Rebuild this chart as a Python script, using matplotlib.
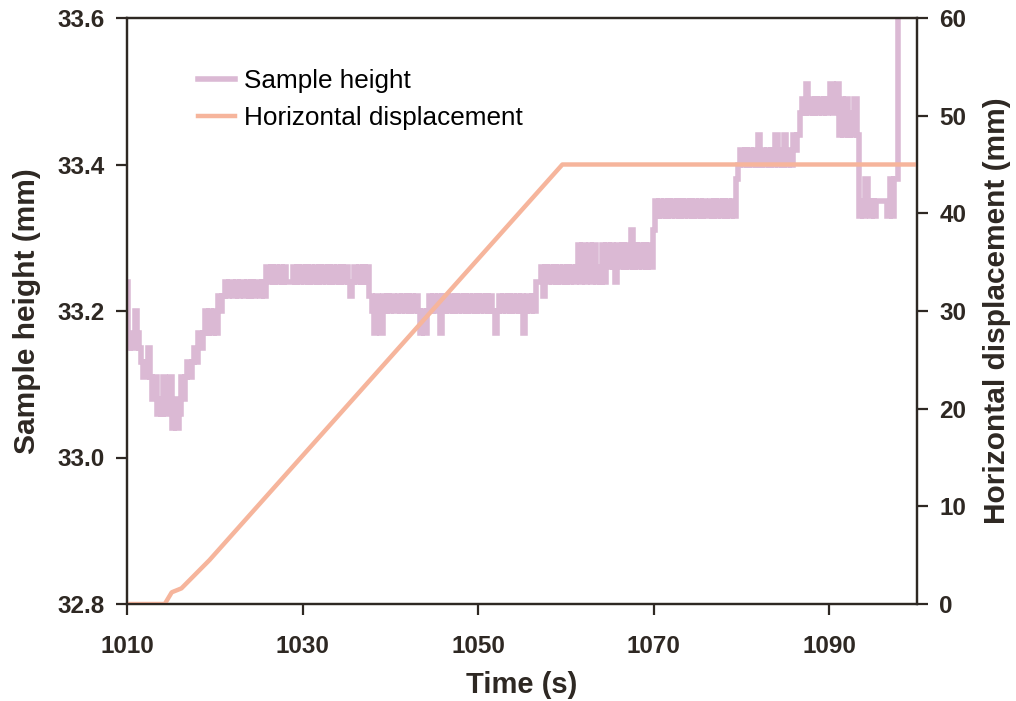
import numpy as np
import matplotlib
matplotlib.use('Agg')
import matplotlib.pyplot as plt

# sample height (mm), read every 0.25 s starting at 1010 s
height_1010 = [33.24, 33.15, 33.17, 33.15, 33.20, 33.17, 33.15, 33.13, 33.11, 33.13,
               33.15, 33.11, 33.08, 33.11, 33.06, 33.08, 33.06, 33.11, 33.06, 33.08,
               33.11, 33.04, 33.08, 33.04, 33.06, 33.11, 33.08, 33.11, 33.13, 33.11,
               33.13, 33.15, 33.13, 33.17, 33.15, 33.17, 33.20, 33.17, 33.20, 33.17]
height_1020 = [33.20, 33.17, 33.22, 33.20, 33.22, 33.24, 33.22, 33.24, 33.24, 33.22,
               33.24, 33.22, 33.24, 33.24, 33.22, 33.24, 33.22, 33.24, 33.22, 33.24,
               33.24, 33.22, 33.24, 33.22, 33.26, 33.24, 33.26, 33.24, 33.26, 33.24,
               33.26, 33.24, 33.26, 33.24, 33.24, 33.24, 33.26, 33.24, 33.26, 33.24]
height_1030 = [33.26, 33.24, 33.26, 33.24, 33.26, 33.24, 33.26, 33.24, 33.26, 33.24,
               33.26, 33.24, 33.26, 33.24, 33.26, 33.24, 33.26, 33.24, 33.26, 33.24,
               33.26, 33.24, 33.22, 33.24, 33.26, 33.24, 33.26, 33.24, 33.26, 33.24,
               33.26, 33.22, 33.20, 33.17, 33.22, 33.20, 33.17, 33.22, 33.20, 33.22]
height_1040 = [33.20, 33.22, 33.20, 33.20, 33.22, 33.20, 33.22, 33.20, 33.22, 33.20,
               33.22, 33.20, 33.22, 33.20, 33.17, 33.20, 33.17, 33.20, 33.22, 33.20,
               33.22, 33.20, 33.22, 33.17, 33.22, 33.20, 33.22, 33.20, 33.22, 33.20,
               33.22, 33.20, 33.22, 33.20, 33.22, 33.20, 33.22, 33.20, 33.22, 33.20]
height_1050 = [33.22, 33.20, 33.22, 33.20, 33.22, 33.20, 33.22, 33.20, 33.17, 33.20,
               33.22, 33.20, 33.22, 33.20, 33.22, 33.20, 33.22, 33.20, 33.22, 33.20,
               33.22, 33.17, 33.20, 33.22, 33.20, 33.22, 33.20, 33.24, 33.24, 33.26,
               33.22, 33.26, 33.24, 33.26, 33.24, 33.26, 33.24, 33.26, 33.24, 33.26]
height_1060 = [33.24, 33.26, 33.24, 33.26, 33.24, 33.26, 33.29, 33.24, 33.29, 33.24,
               33.26, 33.29, 33.24, 33.29, 33.24, 33.26, 33.24, 33.29, 33.24, 33.29,
               33.26, 33.29, 33.26, 33.24, 33.29, 33.26, 33.29, 33.26, 33.29, 33.26,
               33.31, 33.26, 33.29, 33.26, 33.29, 33.26, 33.29, 33.26, 33.29, 33.26]
height_1070 = [33.31, 33.35, 33.33, 33.35, 33.33, 33.35, 33.33, 33.35, 33.33, 33.35,
               33.33, 33.35, 33.33, 33.35, 33.33, 33.35, 33.33, 33.35, 33.33, 33.35,
               33.33, 33.35, 33.33, 33.35, 33.33, 33.33, 33.35, 33.33, 33.35, 33.33,
               33.35, 33.33, 33.35, 33.33, 33.35, 33.33, 33.35, 33.33, 33.38, 33.40]
height_1080 = [33.42, 33.40, 33.42, 33.40, 33.42, 33.40, 33.42, 33.40, 33.44, 33.40,
               33.42, 33.40, 33.42, 33.40, 33.42, 33.40, 33.44, 33.40, 33.42, 33.40,
               33.44, 33.40, 33.42, 33.40, 33.44, 33.42, 33.44, 33.47, 33.49, 33.47,
               33.51, 33.47, 33.49, 33.47, 33.49, 33.47, 33.49, 33.47, 33.49, 33.47]
height_1090 = [33.49, 33.51, 33.47, 33.49, 33.51, 33.44, 33.49, 33.44, 33.49, 33.44,
               33.47, 33.44, 33.49, 33.44, 33.33, 33.35, 33.33, 33.38, 33.35, 33.33,
               33.35, 33.33, 33.35, 33.35, 33.35, 33.35, 33.35, 33.33, 33.38, 33.33,
               33.38, 33.38, 33.62]
SAMPLE_START = 1010.0
SAMPLE_STEP = 0.25

# horizontal displacement (mm), corner points of the ramp
disp_time = [1010.0, 1014.3, 1015.1, 1016.2, 1019.4, 1059.6, 1100.0]
disp_mm = [0.0, 0.0, 1.2, 1.6, 4.5, 45.0, 45.0]

X_TICKS = [1010, 1030, 1050, 1070, 1090]
Y_TICKS = [32.8, 33.0, 33.2, 33.4, 33.6]
Y2_TICKS = [0, 10, 20, 30, 40, 50, 60]

PINK = '#dbb9d4'
SALMON = '#f6b59c'
DARK = '#2e2823'


def visualize():
    plt.rcParams['font.family'] = ['Liberation Sans', 'DejaVu Sans']

    height = np.concatenate([height_1010, height_1020, height_1030, height_1040, height_1050,
                             height_1060, height_1070, height_1080, height_1090])
    t = SAMPLE_START + SAMPLE_STEP * np.arange(len(height))

    fig = plt.figure(figsize=(10.16, 7.01), dpi=100)
    ax1 = fig.add_axes([127 / 1016, 1 - 604 / 701, 790 / 1016, 586 / 701])
    ax2 = ax1.twinx()

    l1, = ax1.plot(t, height, color=PINK, linewidth=4.0, drawstyle='steps-mid',
                   solid_joinstyle='miter', label='Sample height')
    l2, = ax2.plot(disp_time, disp_mm, color=SALMON, linewidth=3.2, label='Horizontal displacement')

    ax1.set_xlim(1010, 1100)
    ax1.set_ylim(32.8, 33.6)
    ax2.set_ylim(0, 60)
    ax1.set_xticks(X_TICKS)
    ax1.set_yticks(Y_TICKS)
    ax1.set_yticklabels(['%.1f' % v for v in Y_TICKS])
    ax2.set_yticks(Y2_TICKS)

    for ax in (ax1, ax2):
        for s in ax.spines.values():
            s.set_color(DARK)
            s.set_linewidth(1.6)
        ax.tick_params(direction='out', length=8, width=1.6, color=DARK,
                       labelsize=17.5, labelcolor=DARK)
        for lab in ax.get_xticklabels() + ax.get_yticklabels():
            lab.set_fontweight('bold')
    ax1.tick_params(axis='x', pad=14)
    ax1.tick_params(axis='y', pad=8)
    ax2.tick_params(axis='y', pad=8)

    ax1.set_xlabel('Time (s)', fontsize=21, fontweight='bold', color=DARK, labelpad=10)
    ax1.set_ylabel('Sample height (mm)', fontsize=21.5, fontweight='bold', color=DARK, labelpad=12)
    ax2.set_ylabel('Horizontal displacement (mm)', fontsize=21.5, fontweight='bold', color=DARK, labelpad=12)

    ax2.legend([l1, l2], [l1.get_label(), l2.get_label()], loc='upper left',
               bbox_to_anchor=(0.09, 0.913), frameon=False, fontsize=18.8,
               borderpad=0, borderaxespad=0, handlelength=1.4, handletextpad=0.35,
               labelspacing=0.5)

    fig.savefig('out.png', dpi=100)


if __name__ == '__main__':
    visualize()
